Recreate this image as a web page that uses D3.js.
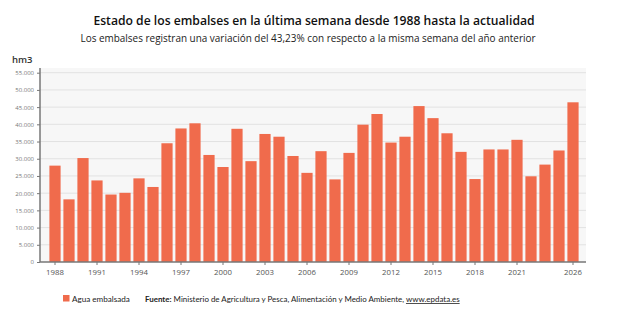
<!DOCTYPE html>
<html><head><meta charset="utf-8">
<script src="https://cdn.jsdelivr.net/npm/d3@7"></script>
<style>body{margin:0;background:#fff;} text{font-family:"Open Sans",sans-serif;}</style>
</head><body><svg id="c" width="617" height="325"></svg>
<script>
const categories = ["1988","1989","1990","1991","1992","1993","1994","1995","1996","1997","1998","1999","2000","2001","2002","2003","2004","2005","2006","2007","2008","2009","2010","2011","2012","2013","2014","2015","2016","2017","2018","2019","2020","2021","2022","2023","2025","2026"];
const values = [28000,18200,30200,23700,19600,20100,24300,21800,34500,38800,40300,31100,27600,38700,29300,37200,36400,30800,25900,32200,24000,31700,39900,43000,34700,36400,45300,41800,37400,32000,24100,32700,32700,35500,24900,28300,32400,46400];
const xTickLabels = ["1988","1991","1994","1997","2000","2003","2006","2009","2012","2015","2018","2021","2026"];
const yTicks = [0,5000,10000,15000,20000,25000,30000,35000,40000,45000,50000,55000];

const svg = d3.select("#c");
const L = 40, R = 586, T = 68, B = 262;
const x = d3.scaleBand().domain(categories).range([L+1, R+1]).paddingInner(0.2).paddingOuter(0.6);
const y = d3.scaleLinear().domain([0,55000]).range([B, 72.7]);
const fmt = d3.formatLocale({decimal:",",thousands:".",grouping:[3],currency:["","€"]}).format(",d");

function fit(sel, w, size){ sel.attr("font-size", size); const l = sel.node().getComputedTextLength(); sel.attr("font-size", size*w/l); }

svg.append("rect").attr("x",L).attr("y",T).attr("width",R-L).attr("height",B-T).attr("fill","#f7f7f7");
svg.append("g").selectAll("line").data(yTicks.slice(1)).join("line")
  .attr("x1",L).attr("x2",R).attr("y1",d=>y(d)).attr("y2",d=>y(d)).attr("stroke","#e2e2e2").attr("stroke-width",1);

svg.append("g").selectAll("rect").data(values).join("rect")
  .attr("x",(d,i)=>x(categories[i])).attr("width",x.bandwidth())
  .attr("y",d=>y(d)).attr("height",d=>B-y(d)).attr("fill","#f06b4c");

const ya = svg.append("g").attr("transform",`translate(${L},0)`)
  .call(d3.axisLeft(y).tickValues(yTicks).tickFormat(fmt).tickSize(3).tickPadding(3));
ya.select(".domain").attr("stroke","#777").attr("stroke-width",1.5).attr("d",`M0,${T}V${B}`);
ya.selectAll(".tick line").attr("stroke","#777");
ya.selectAll("text").attr("font-size",6).attr("fill","#777");

const xa = svg.append("g").attr("transform",`translate(0,${B})`)
  .call(d3.axisBottom(x).tickValues(xTickLabels).tickSize(3).tickPadding(4));
xa.select(".domain").attr("stroke","#777").attr("stroke-width",1.5).attr("d",`M${L},0H${R}`);
xa.selectAll(".tick line").attr("stroke","#777");
xa.selectAll("text").attr("font-size",7.8).attr("fill","#555");

const t1 = svg.append("text").attr("x",314).attr("y",25).attr("text-anchor","middle").attr("font-weight","600").attr("fill","#111")
  .text("Estado de los embalses en la última semana desde 1988 hasta la actualidad");
fit(t1, 442, 14);
const t2 = svg.append("text").attr("x",308).attr("y",42).attr("text-anchor","middle").attr("fill","#222")
  .text("Los embalses registran una variación del 43,23% con respecto a la misma semana del año anterior");
fit(t2, 456, 11);
svg.append("text").attr("x",12).attr("y",63).attr("font-size",9.5).attr("font-weight","600").attr("fill","#333").text("hm3");

const lg = svg.append("g").attr("fill","#222").style("font-family","Lato, sans-serif");
lg.append("rect").attr("x",63).attr("y",295).attr("width",6.5).attr("height",6.5).attr("fill","#f06b4c");
const a = lg.append("text").attr("x",72).attr("y",302).style("font-family","Lato, sans-serif").text("Agua embalsada");
fit(a, 58, 9);
const src = lg.append("text").attr("x",145).attr("y",302).style("font-family","Lato, sans-serif");
src.append("tspan").attr("font-weight","bold").text("Fuente:");
src.append("tspan").text(" Ministerio de Agricultura y Pesca, Alimentación y Medio Ambiente, ");
src.append("tspan").attr("text-decoration","underline").text("www.epdata.es");
fit(src, 315, 9);
</script></body></html>
